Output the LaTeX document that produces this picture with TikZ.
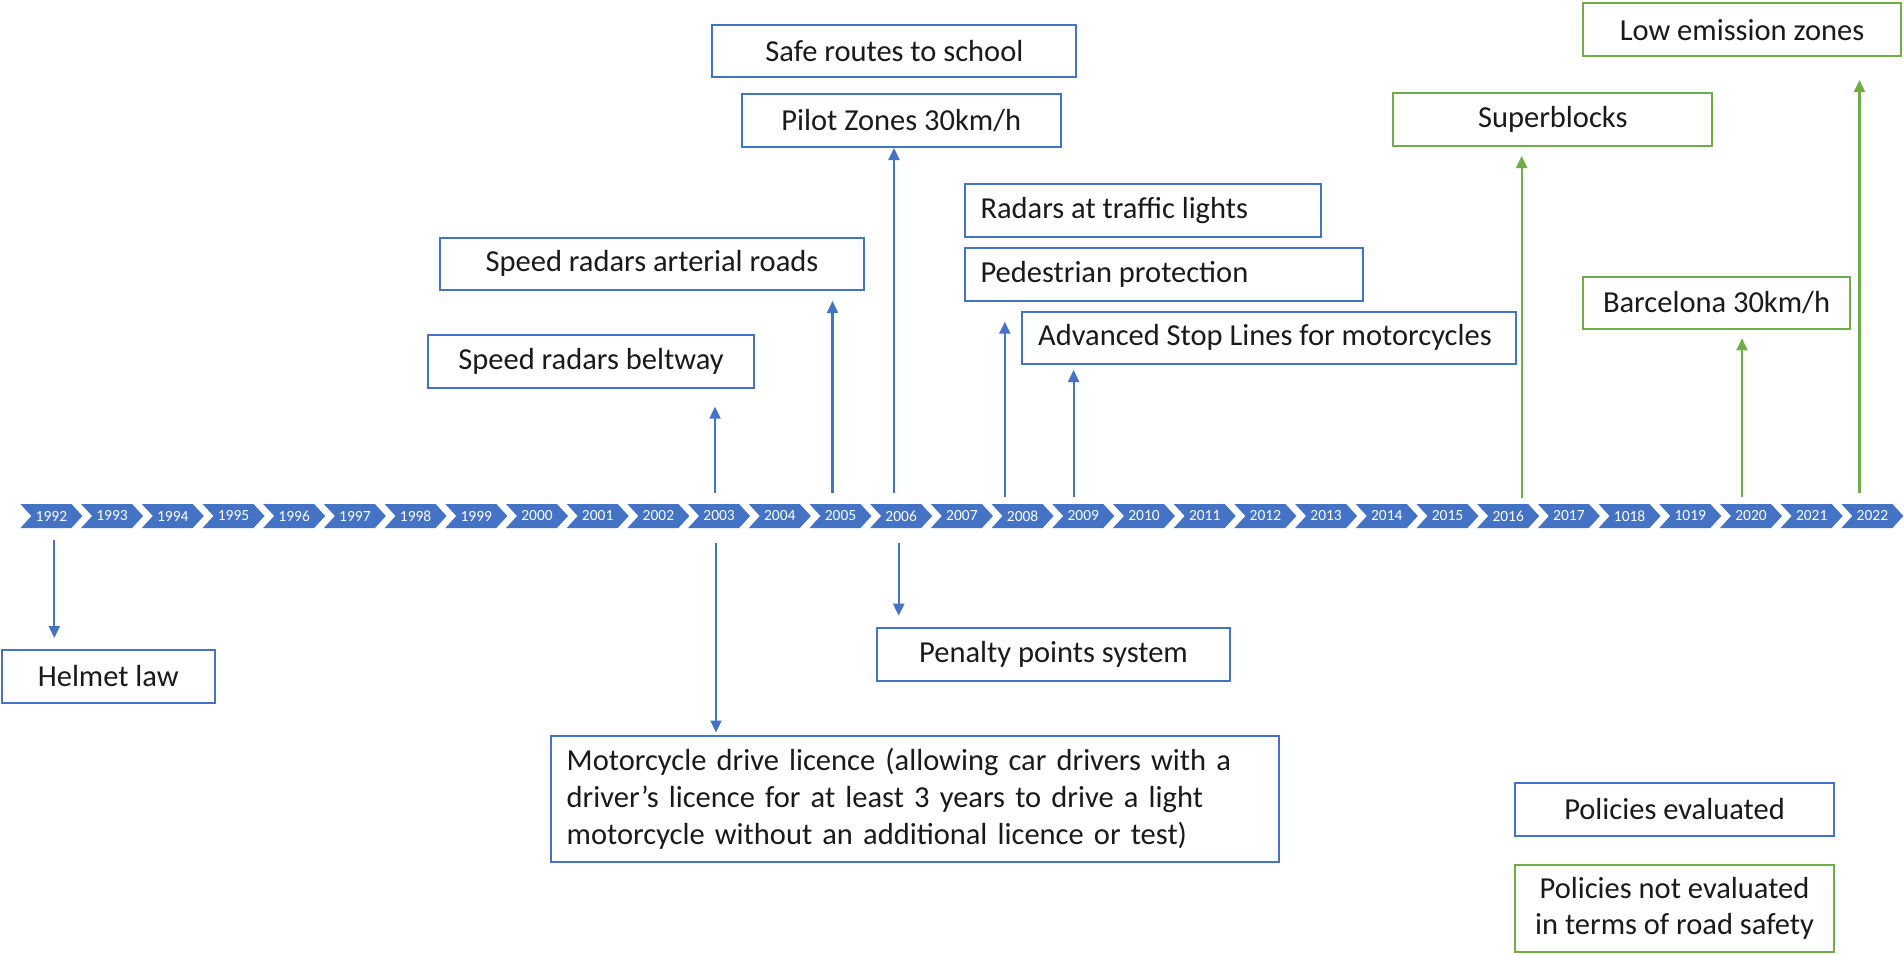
\documentclass[tikz,border=0pt]{standalone}
\usepackage{fontspec}
\setmainfont{Carlito}
\usetikzlibrary{arrows.meta}
\definecolor{cblue}{HTML}{4472C4}
\definecolor{cgreen}{HTML}{70AD47}
\definecolor{ctext}{HTML}{1A1A1A}
\tikzset{
  pbox/.style={draw=cblue, line width=2pt, inner sep=0pt, text=ctext,
    font=\fontsize{30.5}{36.6}\selectfont},
  gbox/.style={pbox, draw=cgreen},
  barrow/.style={draw=cblue, line width=2.2pt, -{Triangle[length=12pt,width=11pt]}},
  garrow/.style={barrow, draw=cgreen},
  chev/.style={fill=cblue, draw=none},
  yearlab/.style={text=white, font=\fontsize{15.5}{18}\selectfont, inner sep=0pt}
}
\begin{document}
\begin{tikzpicture}[x=1pt,y=-1pt]
\useasboundingbox (0,0) rectangle (1904,954);
\fill[white] (0,0) rectangle (1904,954);

% timeline chevrons
\foreach \i/\yr in {0/1992,1/1993,2/1994,3/1995,4/1996,5/1997,6/1998,7/1999,8/2000,9/2001,10/2002,11/2003,12/2004,13/2005,14/2006,15/2007,16/2008,17/2009,18/2010,19/2011,20/2012,21/2013,22/2014,23/2015,24/2016,25/2017,26/1018,27/1019,28/2020,29/2021,30/2022}{
  \pgfmathsetmacro{\xo}{20.4+60.7*\i}
  \fill[chev] (\xo,504) -- ++(51,0) -- ++(11,12) -- ++(-11,12) -- ++(-51,0) -- ++(11,-12) -- cycle;
  \node[yearlab] (y\i) at (\xo+31,516) {\yr};
}

% boxes above (evaluated)
\node[pbox, minimum width=363.9pt, minimum height=52pt] (safe) at (894.35,51) {Safe routes to school};
\node[pbox, minimum width=318.7pt, minimum height=52.7pt] (pilot) at (901.25,120.35) {Pilot Zones 30km/h};
\node[pbox, minimum width=424pt, minimum height=52.3pt] (arterial) at (652,263.85) {Speed radars arterial roads};
\node[pbox, minimum width=326pt, minimum height=52.7pt] (beltway) at (591,361.35) {Speed radars beltway};
\node[pbox, minimum width=356.5pt, minimum height=52.7pt] (radars) at (1142.75,210.35) {\makebox[324.5pt][l]{Radars at traffic lights}};
\node[pbox, minimum width=398.8pt, minimum height=52.4pt] (pedestrian) at (1163.9,274.5) {\makebox[366.8pt][l]{Pedestrian protection}};
\node[pbox, minimum width=493.9pt, minimum height=52pt] (advanced) at (1269.05,337.7) {\makebox[461.9pt][l]{Advanced Stop Lines for motorcycles}};

% boxes not evaluated
\node[gbox, minimum width=319pt, minimum height=52.4pt] (superblocks) at (1552.8,119.5) {Superblocks};
\node[gbox, minimum width=318pt, minimum height=52.7pt] (lez) at (1742,29.65) {Low emission zones};
\node[gbox, minimum width=267pt, minimum height=52.6pt] (bcn) at (1716.5,303) {Barcelona 30km/h};

% boxes below
\node[pbox, minimum width=213.5pt, minimum height=53pt] (helmet) at (108.25,676.5) {Helmet law};
\node[pbox, minimum width=353pt, minimum height=52.4pt] (penalty) at (1053.5,654.5) {Penalty points system};
\node[pbox, minimum width=728.5pt, minimum height=126pt, text width=696.5pt, align=left] (moto) at (914.95,798.7)
  {Motorcycle drive licence (allowing car drivers with a\\driver’s licence for at least 3 years to drive a light\\motorcycle without an additional licence or test)};

% legend
\node[pbox, minimum width=319pt, minimum height=53pt] (legev) at (1674.5,809.5) {Policies evaluated};
\node[gbox, minimum width=319pt, minimum height=87pt, align=center] (legnot) at (1674.5,908.5) {Policies not evaluated\\in terms of road safety};

% arrow end points
\coordinate (t1992) at (54.3,540);   \coordinate (h1992) at (54.3,638);
\coordinate (t2003u) at (715,493);   \coordinate (h2003u) at (715,406.7);
\coordinate (t2003d) at (716,543);   \coordinate (h2003d) at (716,732.5);
\coordinate (t2005) at (832.5,493);  \coordinate (h2005) at (832.5,301);
\coordinate (t2006u) at (894,493);   \coordinate (h2006u) at (894,148);
\coordinate (t2006d) at (898.7,543); \coordinate (h2006d) at (898.7,615.7);
\coordinate (t2008) at (1004.8,497); \coordinate (h2008) at (1004.8,321.7);
\coordinate (t2009) at (1073.6,497); \coordinate (h2009) at (1073.6,370);
\coordinate (t2016) at (1521.7,498); \coordinate (h2016) at (1521.7,156);
\coordinate (t2020) at (1742,497);   \coordinate (h2020) at (1742,338.3);
\coordinate (t2022) at (1859.5,493); \coordinate (h2022) at (1859.5,80);

\draw[barrow] (t1992) -- (h1992);
\draw[barrow] (t2003u) -- (h2003u);
\draw[barrow] (t2003d) -- (h2003d);
\draw[barrow] (t2005) -- (h2005);
\draw[barrow] (t2006u) -- (h2006u);
\draw[barrow] (t2006d) -- (h2006d);
\draw[barrow] (t2008) -- (h2008);
\draw[barrow] (t2009) -- (h2009);
\draw[garrow] (t2016) -- (h2016);
\draw[garrow] (t2020) -- (h2020);
\draw[garrow] (t2022) -- (h2022);
\end{tikzpicture}
\end{document}
